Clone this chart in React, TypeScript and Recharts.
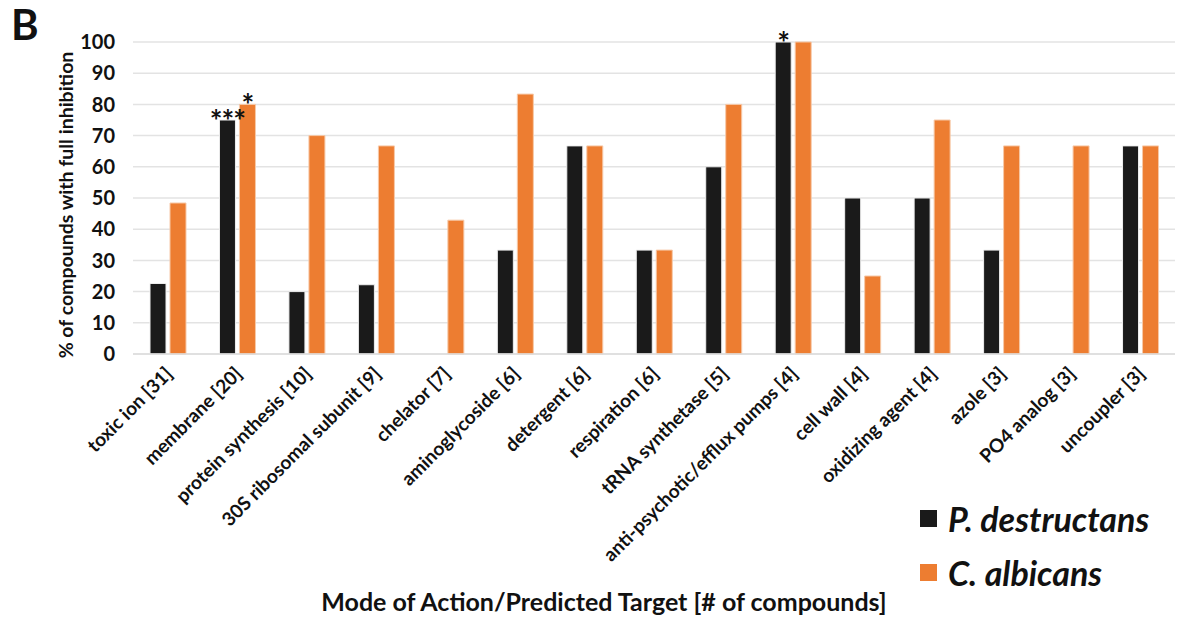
import { BarChart, Bar, XAxis, YAxis, CartesianGrid, LabelList, Label } from 'recharts';

const categories = [
  'toxic ion [31]', 'membrane [20]', 'protein synthesis [10]', '30S ribosomal subunit [9]',
  'chelator [7]', 'aminoglycoside [6]', 'detergent [6]', 'respiration [6]', 'tRNA synthetase [5]',
  'anti-psychotic/efflux pumps [4]', 'cell wall [4]', 'oxidizing agent [4]', 'azole [3]',
  'PO4 analog [3]', 'uncoupler [3]',
];
const pDestructans = [22.6, 75, 20, 22.2, 0, 33.3, 66.7, 33.3, 60, 100, 50, 50, 33.3, 0, 66.7];
const cAlbicans = [48.4, 80, 70, 66.7, 42.9, 83.3, 66.7, 33.3, 80, 100, 25, 75, 66.7, 66.7, 66.7];
const pSig = ['', '***', '', '', '', '', '', '', '', '*', '', '', '', '', ''];
const cSig = ['', '*', '', '', '', '', '', '', '', '', '', '', '', '', ''];
const yTicks = [0, 10, 20, 30, 40, 50, 60, 70, 80, 90, 100];

const data = categories.map((name, i) => ({
  name, p: pDestructans[i], c: cAlbicans[i], ps: pSig[i], cs: cSig[i],
}));

const FONT = 'Lato, "Open Sans", sans-serif';
const BLACK = '#1a1a1a';
const ORANGE = '#ED7D31';

const XTick = ({ x, y, payload }: any) => (
  <g transform={`translate(${x + 6},${y + 13})`}>
    <text transform="rotate(-45)" textAnchor="end" fontSize={19} fontWeight={700} fill="#111" fontFamily={FONT}>
      {payload.value}
    </text>
  </g>
);

const SigLabel = ({ x, y, width, value }: any) =>
  value ? (
    <text x={x + width / 2} y={y + 12} textAnchor="middle" fontSize={30} fontWeight={700} fill="#111"
      fontFamily={FONT} letterSpacing={-1}>
      {value}
    </text>
  ) : null;

const YTitle = ({ viewBox }: any) => {
  const cx = viewBox.x + 65;
  const cy = viewBox.y + viewBox.height / 2 + 7;
  return (
    <text x={cx} y={cy} transform={`rotate(-90, ${cx}, ${cy})`} textAnchor="middle" dominantBaseline="central"
      fontSize={19.5} fontWeight={700} fill="#111" fontFamily={FONT}>
      % of compounds with full inhibition
    </text>
  );
};

export default function App() {
  return (
    <div style={{ position: 'absolute', left: 0, top: 0, width: 1184, height: 619, background: '#fff', fontFamily: FONT }}>
      <BarChart width={1184} height={619} data={data} margin={{ top: 42, right: 9, left: 0, bottom: 0 }}
        barSize={16} barGap={4}>
        <CartesianGrid vertical={false} stroke="#e3e3e3" strokeWidth={1.5} />
        <XAxis dataKey="name" height={265} interval={0} tick={<XTick />} tickLine={false}
          axisLine={{ stroke: '#dcdcdc', strokeWidth: 1.5 }} />
        <YAxis width={133} domain={[0, 100]} ticks={yTicks} tickSize={0} tickMargin={18} axisLine={false}
          tick={{ fill: '#111', fontSize: 20, fontWeight: 700, fontFamily: FONT }}>
          <Label content={YTitle} />
        </YAxis>
        <Bar dataKey="p" fill={BLACK} stroke="#eeeeee" strokeWidth={1} isAnimationActive={false}>
          <LabelList dataKey="ps" content={SigLabel} />
        </Bar>
        <Bar dataKey="c" fill={ORANGE} stroke="#f7c9a8" strokeWidth={1} isAnimationActive={false}>
          <LabelList dataKey="cs" content={SigLabel} />
        </Bar>
      </BarChart>

      <div style={{ position: 'absolute', left: 11, top: 3, fontSize: 42, lineHeight: '42px', fontWeight: 700, color: '#111' }}>B</div>

      <div style={{ position: 'absolute', left: 604, top: 586, transform: 'translateX(-50%)', whiteSpace: 'nowrap',
        fontSize: 25, fontWeight: 700, color: '#111' }}>
        Mode of Action/Predicted Target [# of compounds]
      </div>

      <div style={{ position: 'absolute', left: 920, top: 498, display: 'flex', alignItems: 'center' }}>
        <div style={{ width: 17, height: 17, background: BLACK, marginRight: 11 }} />
        <span style={{ fontSize: 34, fontWeight: 700, fontStyle: 'italic', color: '#111' }}>P. destructans</span>
      </div>
      <div style={{ position: 'absolute', left: 920, top: 552, display: 'flex', alignItems: 'center' }}>
        <div style={{ width: 17, height: 17, background: ORANGE, marginRight: 11 }} />
        <span style={{ fontSize: 34, fontWeight: 700, fontStyle: 'italic', color: '#111' }}>C. albicans</span>
      </div>
    </div>
  );
}
